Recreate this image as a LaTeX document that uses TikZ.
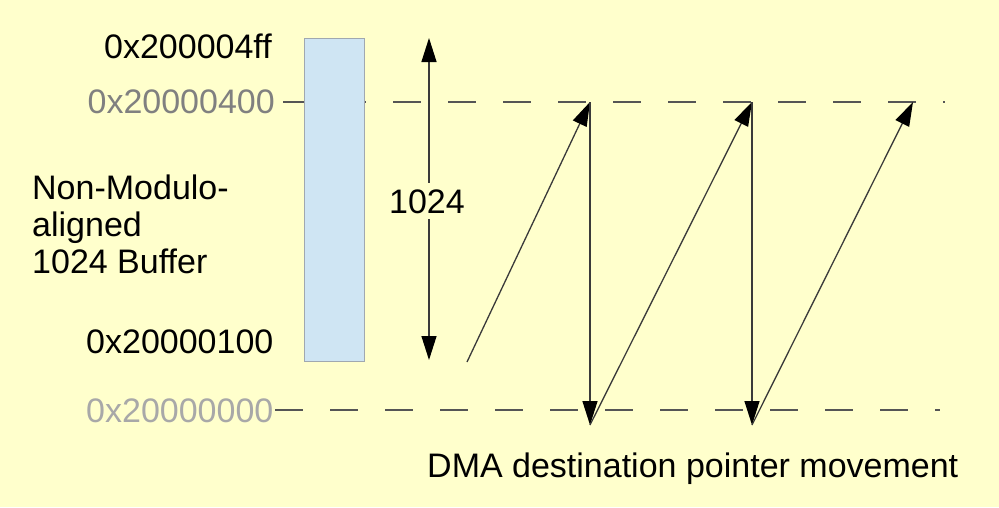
\documentclass[tikz,border=0pt]{standalone}
\usepackage{fontspec}
\setmainfont{Liberation Sans}
\usetikzlibrary{arrows.meta}
\definecolor{bgyellow}{HTML}{FFFFCC}
\definecolor{buffill}{HTML}{CFE5F3}
\definecolor{bufdraw}{HTML}{A0A8B0}
\definecolor{midgray}{HTML}{808080}
\definecolor{lightgray2}{HTML}{A8A8A8}
\definecolor{dashcol}{HTML}{555555}
\definecolor{arrcol}{HTML}{3A3A3A}
\tikzset{
  lbl/.style={inner sep=0pt, font=\fontsize{34}{37}\selectfont},
  guide/.style={draw=dashcol, line width=1.3pt, dash pattern=on 28pt off 27pt},
  mover/.style={draw=arrcol, line width=1.3pt, -{Triangle[length=24pt,width=15pt,color=black]}},
  span/.style={draw=arrcol, line width=1.3pt, {Triangle[length=24pt,width=15pt,color=black]}-{Triangle[length=24pt,width=15pt,color=black]}},
}
\begin{document}
\begin{tikzpicture}[x=1pt,y=-1pt]
\useasboundingbox (0,0) rectangle (999,507);
\fill[bgyellow] (0,0) rectangle (999,507);

% dashed guide lines
\coordinate (topL) at (283,102);
\coordinate (topR) at (945,102);
\coordinate (botL) at (275,410);
\coordinate (botR) at (940,410);
\draw[guide] (topL) -- (topR);
\draw[guide] (botL) -- (botR);

% buffer
\node[draw=bufdraw, fill=buffill, line width=1.2pt, minimum width=60pt, minimum height=323pt, inner sep=0pt, anchor=north west] (buf) at (304,38) {};

% labels
\node[lbl, anchor=base east] (a4ff) at (272,58) {0x200004ff};
\node[lbl, anchor=base east, text=midgray] (a400) at (275,113) {0x20000400};
\node[lbl, anchor=base west] (a100) at (86,353) {0x20000100};
\node[lbl, anchor=base west, text=lightgray2] (a000) at (86,422) {0x20000000};
\node[lbl, anchor=north west, align=left] (buflabel) at (32,175) {Non-Modulo-\\aligned\\1024 Buffer};
\node[lbl, anchor=base west] (dma) at (427,477) {DMA destination pointer movement};

% 1024 span arrow
\coordinate (spT) at (429,38);
\coordinate (spB) at (429,360);
\draw[span] (spT) -- (spB);
\node[lbl, fill=bgyellow, inner ysep=6pt, inner xsep=2pt, anchor=base] (len) at (427,213) {1024};

% pointer movement
\coordinate (s0) at (467,362);
\coordinate (t1) at (590,102);
\coordinate (b1) at (590,425);
\coordinate (t2) at (752,102);
\coordinate (b2) at (752,425);
\coordinate (t3) at (913,102);
\draw[mover] (s0) -- (t1);
\draw[mover] (t1) -- (b1);
\draw[mover] (b1) -- (t2);
\draw[mover] (t2) -- (b2);
\draw[mover] (b2) -- (t3);
\end{tikzpicture}
\end{document}
